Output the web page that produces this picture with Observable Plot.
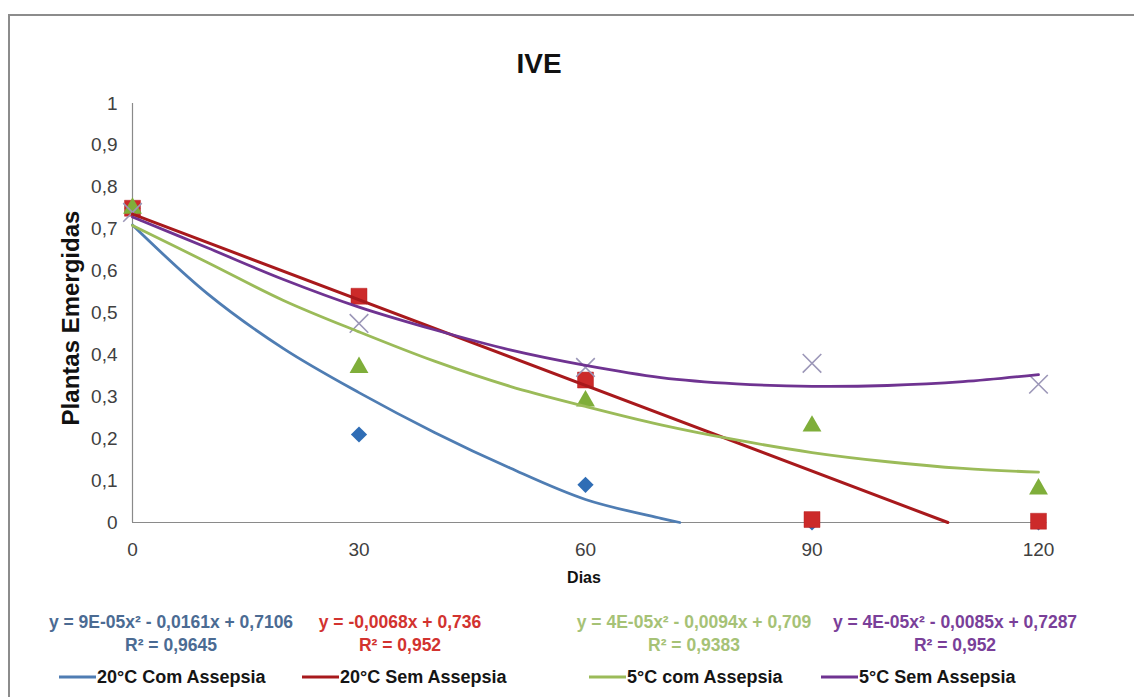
<!DOCTYPE html>
<html>
<head>
<meta charset="utf-8">
<script src="https://cdn.jsdelivr.net/npm/d3@7"></script>
<script src="https://cdn.jsdelivr.net/npm/@observablehq/plot@0.6"></script>
<style>
  body { margin: 0; background: #fff; }
  #wrap { position: relative; width: 1134px; height: 697px; overflow: hidden; font-family: "Liberation Sans", Arial, sans-serif; }
  #frame { position: absolute; left: 8px; top: 14px; width: 1300px; height: 900px; border: 2px solid #8c8c8c; box-sizing: border-box; }
  #chart { position: absolute; left: 0; top: 0; }
  .ov { position: absolute; white-space: nowrap; transform: translate(-50%, -50%); font-weight: bold; }
  .leg { position: absolute; white-space: nowrap; transform: translateY(-50%); font-weight: bold; font-size: 18px; color: #151515; display: flex; align-items: center; }
  .sw { display: inline-block; width: 37px; height: 3px; margin-right: 1px; }
</style>
</head>
<body>
<div id="wrap">
  <div id="frame"></div>
  <div id="chart"></div>
</div>
<script>
// Observed data (Dias vs Plantas Emergidas)
const dias = [0, 30, 60, 90, 120];
const com20 = [0.75, 0.21, 0.09, 0, 0];
const sem20 = [0.75, 0.54, 0.34, 0.007, 0.003];
const com5 = [0.75, 0.37, 0.29, 0.23, 0.08];
const sem5 = [0.74, 0.475, 0.37, 0.38, 0.33];

// Trend lines
const trendCom20X = [0, 10, 20, 30, 40, 50, 60, 70, 72.5];
const trendCom20Y = [0.71, 0.545, 0.415, 0.31, 0.215, 0.13, 0.055, 0.01, 0];
const trendSem20X = [0, 108];
const trendSem20Y = [0.736, 0];
const trendX = [0, 10, 20, 30, 40, 50, 60, 70, 80, 90, 100, 110, 120];
const trendCom5Y = [0.709, 0.62, 0.53, 0.455, 0.385, 0.325, 0.277, 0.233, 0.197, 0.167, 0.145, 0.129, 0.12];
const trendSem5Y = [0.729, 0.655, 0.58, 0.514, 0.46, 0.412, 0.375, 0.346, 0.331, 0.325, 0.327, 0.336, 0.353];

const yTicks = [0, 0.1, 0.2, 0.3, 0.4, 0.5, 0.6, 0.7, 0.8, 0.9, 1];
const seriesNames = ["20°C Com Assepsia", "20°C Sem Assepsia", "5°C com Assepsia", "5°C Sem Assepsia"];
const equations = [
  "y = 9E-05x² - 0,0161x + 0,7106",
  "y = -0,0068x + 0,736",
  "y = 4E-05x² - 0,0094x + 0,709",
  "y = 4E-05x² - 0,0085x + 0,7287"
];
const r2 = ["R² = 0,9645", "R² = 0,952", "R² = 0,9383", "R² = 0,952"];

const lineColors = ["#4f7db3", "#a8191c", "#9bbb59", "#6f3391"];
const eqColors = ["#4b6b93", "#d2332f", "#a6c276", "#7a3f99"];

const pts = (ys) => dias.map((d, i) => ({x: d, y: ys[i]}));
const tr = (xs, ys) => xs.map((d, i) => ({x: d, y: ys[i]}));
const fmt = d => String(d).replace(".", ",");

const chart = Plot.plot({
  width: 1134,
  height: 697,
  marginLeft: 132,
  marginRight: 96,
  marginTop: 103,
  marginBottom: 175,
  x: {domain: [0, 120]},
  y: {domain: [0, 1]},
  style: {fontFamily: "Liberation Sans, Arial, sans-serif", fontSize: "19px", background: "transparent"},
  marks: [
    Plot.ruleY([0], {stroke: "#8a8a8a", strokeWidth: 1.2}),
    Plot.ruleX([0], {stroke: "#8a8a8a", strokeWidth: 1.2}),
    Plot.axisY(yTicks, {tickSize: 0, tickPadding: 15, tickFormat: fmt, fontSize: 19, fill: "#404040", label: null}),
    Plot.axisX(dias, {tickSize: 0, tickPadding: 20, fontSize: 19, fill: "#404040", label: null}),
    Plot.dot(pts(com20), {x: "x", y: "y", symbol: "diamond2", r: 7.3, fill: "#2f6db5", stroke: "none"}),
    Plot.dot(pts(sem20), {x: "x", y: "y", symbol: "square", r: 9, fill: "#cc2a2a", stroke: "#b82222", strokeWidth: 0.5}),
    Plot.dot(pts(com5), {x: "x", y: "y", symbol: "triangle", r: 7, fill: "#7fae3a", stroke: "none"}),
    Plot.dot(pts(sem5), {x: "x", y: "y", symbol: "times", r: 8.5, stroke: "#9c97b8", strokeWidth: 1.6}),
    Plot.line(tr(trendCom20X, trendCom20Y), {x: "x", y: "y", stroke: lineColors[0], strokeWidth: 2.8, curve: "catmull-rom"}),
    Plot.line(tr(trendSem20X, trendSem20Y), {x: "x", y: "y", stroke: lineColors[1], strokeWidth: 3}),
    Plot.line(tr(trendX, trendCom5Y), {x: "x", y: "y", stroke: lineColors[2], strokeWidth: 2.8, curve: "catmull-rom"}),
    Plot.line(tr(trendX, trendSem5Y), {x: "x", y: "y", stroke: lineColors[3], strokeWidth: 2.8, curve: "catmull-rom"})
  ]
});
document.getElementById("chart").appendChild(chart);

const wrap = document.getElementById("wrap");
function addText(txt, x, y, css, cls = "ov") {
  const d = document.createElement("div");
  d.className = cls;
  d.textContent = txt;
  d.style.left = x + "px";
  d.style.top = y + "px";
  Object.assign(d.style, css);
  wrap.appendChild(d);
  return d;
}
addText("IVE", 539, 64, {fontSize: "28px", color: "#111"});
addText("Plantas Emergidas", 71, 318, {fontSize: "24px", color: "#111", transform: "translate(-50%, -50%) rotate(-90deg)"});
addText("Dias", 584, 578, {fontSize: "16px", color: "#111"});

const eqCenters = [171, 400, 694, 955];
equations.forEach((e, i) => {
  addText(e, eqCenters[i], 622, {fontSize: "17.5px", color: eqColors[i]});
  addText(r2[i], eqCenters[i], 645, {fontSize: "17.5px", color: eqColors[i]});
});

const legX = [59, 302, 589, 821];
seriesNames.forEach((n, i) => {
  const d = document.createElement("div");
  d.className = "leg";
  d.style.left = legX[i] + "px";
  d.style.top = "677px";
  const sw = document.createElement("span");
  sw.className = "sw";
  sw.style.background = lineColors[i];
  d.appendChild(sw);
  d.appendChild(document.createTextNode(n));
  wrap.appendChild(d);
});
</script>
</body>
</html>
